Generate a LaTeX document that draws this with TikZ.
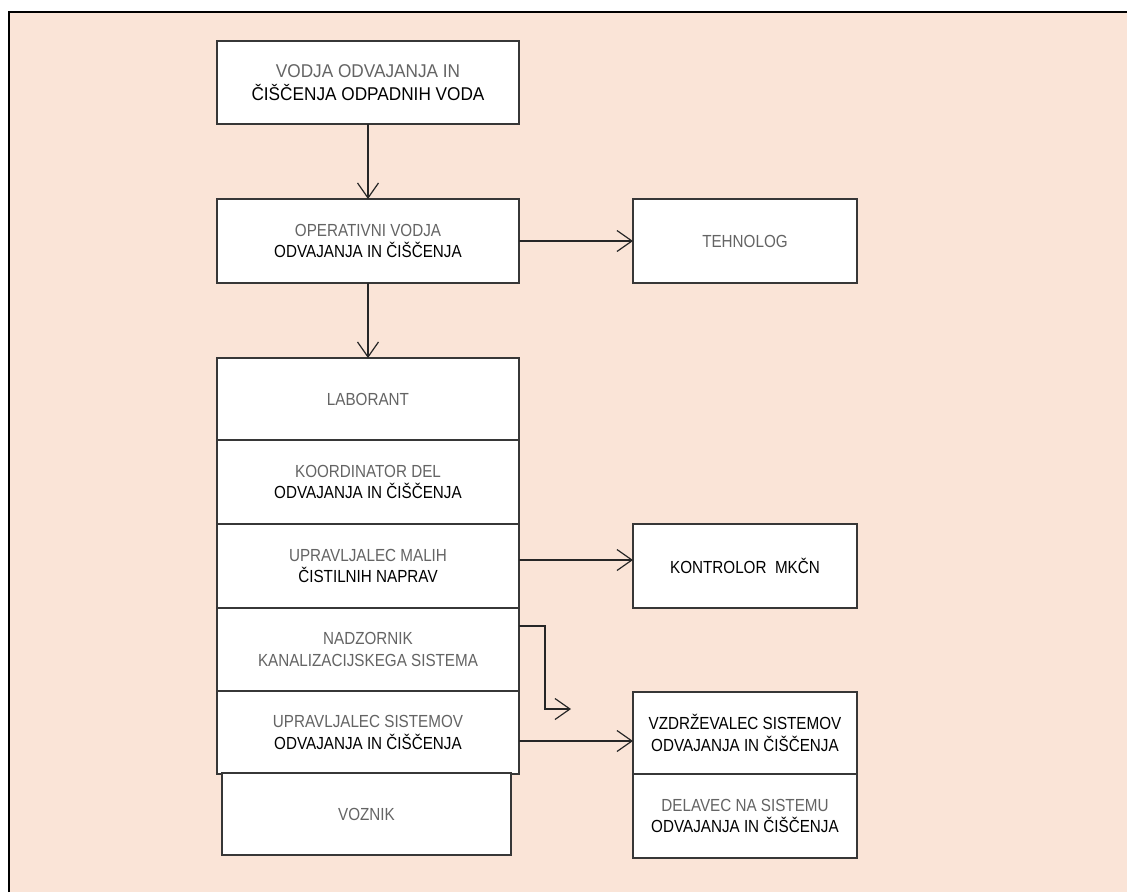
\documentclass[tikz,border=0pt]{standalone}
\usepackage{fontspec}
\setmainfont{Liberation Sans}
\newfontfamily\narrowfont[FakeStretch=0.87]{Liberation Sans}
\newfontfamily\topfont[FakeStretch=0.93]{Liberation Sans}
\usetikzlibrary{arrows.meta}
\definecolor{bgpeach}{RGB}{250,228,215}
\definecolor{lite}{RGB}{100,100,100}
\definecolor{edge}{RGB}{55,55,55}
\newcommand{\lt}[1]{{\color{lite}#1}}
\begin{document}
\begin{tikzpicture}[x=1pt,y=-1pt,
  box/.style={draw=edge,line width=1.4pt,fill=white,inner sep=0pt,outer sep=0pt,
    align=center,font=\narrowfont\fontsize{17.5}{21.5}\selectfont,text=black},
  wide/.style={box,minimum width=302pt},
  side/.style={box,minimum width=224pt},
  conn/.style={draw=black!85,line width=1.2pt,-{Straight Barb[length=15pt,width=21pt,line width=1.2pt]}}
]
\useasboundingbox (0,0) rectangle (1127,892);
\fill[white] (0,0) rectangle (1127,892);
\fill[bgpeach] (9,12) rectangle (1127,892);
\draw[black,line width=1.6pt] (9,892) -- (9,12) -- (1127,12);

\node[wide,minimum height=83pt,font=\topfont\fontsize{18.5}{23}\selectfont] (top) at (368,82.5) {\lt{VODJA ODVAJANJA IN}\\ČIŠČENJA ODPADNIH VODA};
\node[wide,minimum height=84pt] (oper) at (368,241) {\lt{OPERATIVNI VODJA}\\ODVAJANJA IN ČIŠČENJA};
\node[side,minimum height=84pt] (tehn) at (745,241) {\lt{TEHNOLOG}};

\node[wide,minimum height=82pt] (lab) at (368,399) {\lt{LABORANT}};
\node[wide,minimum height=84pt] (koord) at (368,482) {\lt{KOORDINATOR DEL}\\ODVAJANJA IN ČIŠČENJA};
\node[wide,minimum height=84pt] (malih) at (368,566) {\lt{UPRAVLJALEC MALIH}\\ČISTILNIH NAPRAV};
\node[wide,minimum height=83pt] (nadz) at (368,649.5) {\lt{NADZORNIK}\\\lt{KANALIZACIJSKEGA SISTEMA}};
\node[wide,minimum height=83pt] (sist) at (368,732.5) {\lt{UPRAVLJALEC SISTEMOV}\\ODVAJANJA IN ČIŠČENJA};
\node[box,minimum width=289pt,minimum height=82pt] (vozn) at (366.5,814) {\lt{VOZNIK}};

\node[side,minimum height=84pt] (kontr) at (745,566) {KONTROLOR\ \ MKČN};
\node[side,minimum height=82pt] (vzdr) at (745,733) {VZDRŽEVALEC SISTEMOV\\ODVAJANJA IN ČIŠČENJA};
\node[side,minimum height=84pt] (delav) at (745,816) {\lt{DELAVEC NA SISTEMU}\\ODVAJANJA IN ČIŠČENJA};

\draw[conn] (top.south) -- (oper.north);
\draw[conn] (oper.south) -- (lab.north);
\draw[conn] (oper.east) -- (tehn.west);
\draw[conn] ([yshift=6pt]malih.east) -- ([yshift=6pt]malih.east -| kontr.west);
\draw[conn] ([yshift=-8.5pt]sist.east) -- ([yshift=-8.5pt]sist.east -| vzdr.west);
\coordinate (elbowend) at (571,709);
\draw[conn] ([yshift=23.5pt]nadz.east) -| (545,709) -- (elbowend);
\end{tikzpicture}
\end{document}
